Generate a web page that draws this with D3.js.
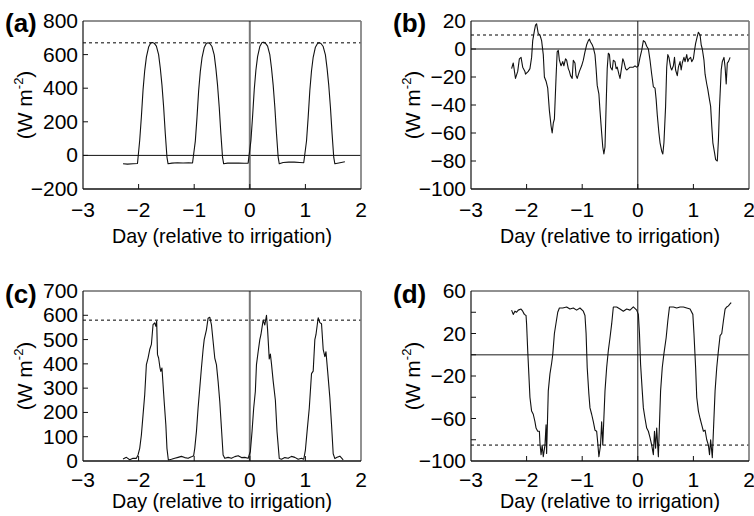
<!DOCTYPE html>
<html>
<head>
<meta charset="utf-8">
<script src="https://cdn.jsdelivr.net/npm/d3@7"></script>
<style>
  body { margin: 0; background: #fff; }
  svg { font-family: "Liberation Sans", Arial, sans-serif; }
</style>
</head>
<body>
<div id="chart"></div>
<script>
// x axis (days relative to irrigation)
var dayTicks = [-3, -2, -1, 0, 1, 2];

// (a) net radiation
var yTicksA = [800, 600, 400, 200, 0, -200];
var refLineA = 670;
var seriesA = [
  [-2.28,-50],[-2.2,-52],[-2.1,-50],[-2.02,-48],
  [-1.98,90],[-1.95,230],[-1.92,390],[-1.89,505],[-1.86,585],[-1.82,645],[-1.78,670],[-1.75,672],
  [-1.72,668],[-1.68,650],[-1.64,600],[-1.61,520],[-1.58,420],[-1.55,290],[-1.52,130],[-1.49,-10],[-1.47,-50],
  [-1.4,-46],[-1.3,-44],[-1.2,-45],[-1.1,-44],[-1.03,-45],
  [-0.98,85],[-0.95,225],[-0.92,385],[-0.89,500],[-0.86,580],[-0.82,642],[-0.78,668],[-0.75,670],
  [-0.72,666],[-0.68,648],[-0.64,598],[-0.61,518],[-0.58,418],[-0.55,288],[-0.52,128],[-0.49,-12],[-0.47,-50],
  [-0.4,-46],[-0.3,-45],[-0.2,-46],[-0.1,-47],[-0.03,-46],
  [0.02,88],[0.05,232],[0.08,392],[0.11,508],[0.14,588],[0.18,648],[0.22,672],[0.25,674],
  [0.28,668],[0.32,650],[0.36,600],[0.39,520],[0.42,420],[0.45,290],[0.48,130],[0.51,-10],[0.53,-50],
  [0.6,-42],[0.7,-40],[0.8,-40],[0.9,-42],[0.97,-44],
  [1.02,86],[1.05,228],[1.08,388],[1.11,504],[1.14,584],[1.18,644],[1.22,668],[1.25,670],
  [1.28,666],[1.32,648],[1.36,598],[1.39,518],[1.42,418],[1.45,288],[1.48,128],[1.51,-12],[1.53,-50],
  [1.6,-45],[1.71,-38]
];

// (b)
var yTicksB = [20, 0, -20, -40, -60, -80, -100];
var refLineB = 10;
var seriesB = [
  [-2.27,-14],[-2.24,-10],[-2.20,-21],[-2.16,-16],[-2.13,-7],[-2.10,-6],[-2.07,-13],[-2.03,-16],[-2.02,-18],
  [-1.97,-16],[-1.94,-14],[-1.91,-6],[-1.89,6],[-1.86,13],[-1.84,17],[-1.82,18],[-1.79,11],[-1.76,10],[-1.73,6],
  [-1.70,-4],[-1.68,-20],[-1.65,-23],[-1.62,-28],[-1.59,-44],[-1.56,-55],[-1.54,-60],[-1.52,-53],[-1.50,-50],
  [-1.47,-20],[-1.45,-2],[-1.43,-1],[-1.41,-8],[-1.38,-12],[-1.35,-9],[-1.33,-12],[-1.30,-7],[-1.28,-8],
  [-1.25,-14],[-1.23,-16],[-1.21,-19],[-1.18,-21],[-1.16,-8],[-1.13,-10],[-1.11,-19],[-1.09,-21],[-1.05,-16],
  [-1.01,-12],[-0.98,-8],[-0.95,-2],[-0.92,3],[-0.89,6],[-0.87,7],[-0.85,5],[-0.82,3],[-0.80,1],[-0.77,-4],
  [-0.75,-14],[-0.73,-26],[-0.70,-32],[-0.68,-44],[-0.65,-60],[-0.63,-70],[-0.61,-75],[-0.59,-70],[-0.57,-41],
  [-0.55,-14],[-0.53,-3],[-0.51,-4],[-0.49,-13],[-0.46,-15],[-0.44,-8],[-0.41,-9],[-0.39,-14],[-0.37,-13],
  [-0.34,-18],[-0.32,-21],[-0.29,-13],[-0.27,-7],[-0.25,-9],[-0.22,-14],[-0.20,-15],[-0.17,-14],[-0.14,-13],
  [-0.11,-13],[-0.08,-13],[-0.05,-12],[-0.02,-13],[0.01,-12],[0.04,-6],[0.07,-1],[0.10,6],[0.13,5],[0.16,2],
  [0.19,0],[0.22,-8],[0.25,-18],[0.28,-27],[0.31,-28],[0.33,-36],[0.35,-47],[0.38,-60],[0.40,-67],[0.43,-73],
  [0.45,-75],[0.47,-67],[0.50,-41],[0.52,-13],[0.54,-4],[0.56,-6],[0.59,-13],[0.61,-15],[0.64,-12],[0.66,-6],
  [0.68,-15],[0.71,-19],[0.73,-13],[0.76,-9],[0.78,-15],[0.80,-10],[0.83,-6],[0.85,-9],[0.88,-4],[0.90,-9],
  [0.92,-7],[0.95,-6],[0.97,-9],[1.00,-7],[1.02,-1],[1.04,4],[1.07,9],[1.09,12],[1.12,10],[1.14,3],[1.16,0],
  [1.19,-8],[1.21,-18],[1.24,-25],[1.26,-29],[1.28,-34],[1.31,-41],[1.33,-55],[1.35,-67],[1.38,-74],[1.40,-79],
  [1.43,-80],[1.45,-65],[1.47,-41],[1.50,-15],[1.52,-9],[1.55,-6],[1.57,-13],[1.59,-25],[1.61,-10],[1.63,-9],
  [1.66,-6]
];

// (c)
var yTicksC = [700, 600, 500, 400, 300, 200, 100, 0];
var refLineC = 580;
var seriesC = [
  [-2.28,8],[-2.22,15],[-2.16,5],[-2.10,11],[-2.04,11],[-2.01,25],[-1.98,52],[-1.95,107],[-1.92,190],[-1.89,273],
  [-1.86,397],[-1.83,424],[-1.80,459],[-1.77,480],[-1.74,562],[-1.71,569],[-1.69,555],[-1.675,576],[-1.66,438],
  [-1.64,424],[-1.615,383],[-1.60,369],[-1.58,383],[-1.56,314],[-1.54,245],[-1.51,149],[-1.49,52],[-1.465,4],
  [-1.41,7],[-1.35,11],[-1.29,15],[-1.23,19],[-1.17,14],[-1.11,11],[-1.05,17],[-1.01,22],
  [-0.99,52],[-0.96,121],[-0.93,218],[-0.90,300],[-0.87,383],[-0.84,459],[-0.82,500],[-0.78,540],[-0.75,588],
  [-0.72,592],[-0.69,562],[-0.66,493],[-0.63,424],[-0.60,397],[-0.57,328],[-0.54,245],[-0.51,135],[-0.48,25],[-0.45,11],
  [-0.39,15],[-0.33,11],[-0.27,18],[-0.21,22],[-0.15,14],[-0.09,15],[-0.03,11],
  [0.01,39],[0.04,121],[0.07,218],[0.10,287],[0.12,397],[0.15,450],[0.18,500],[0.20,520],[0.24,580],[0.27,560],
  [0.30,600],[0.32,540],[0.35,420],[0.37,440],[0.39,400],[0.42,330],[0.46,250],[0.49,120],[0.53,10],
  [0.57,7],[0.63,14],[0.69,11],[0.75,19],[0.81,15],[0.87,7],[0.93,11],[0.97,7],
  [1.00,45],[1.03,121],[1.07,218],[1.11,360],[1.14,370],[1.17,500],[1.19,520],[1.23,590],[1.26,570],[1.29,565],
  [1.32,460],[1.35,430],[1.37,450],[1.40,370],[1.44,260],[1.47,150],[1.50,30],[1.53,10],[1.57,15],[1.62,20],[1.68,5]
];

// (d)
var yTicksD = [60, 40, 20, 0, -20, -40, -60, -80, -100];
var yLabelsD = [60, 20, -20, -60, -100];
var refLineD = -85;
var seriesD = [
  [-2.27,42],[-2.24,38],[-2.21,41],[-2.18,40],[-2.15,42],[-2.10,43],[-2.07,41],[-2.04,38],[-2.01,37],[-2.00,29],
  [-1.98,4],[-1.96,-18],[-1.94,-40],[-1.91,-53],[-1.88,-56],[-1.85,-63],[-1.83,-69],[-1.80,-72],[-1.77,-72],
  [-1.76,-83],[-1.74,-94],[-1.72,-85],[-1.70,-96],[-1.67,-85],[-1.65,-66],[-1.64,-93],[-1.61,-34],[-1.58,-18],
  [-1.55,-8],[-1.53,0],[-1.50,20],[-1.44,40],[-1.41,44],[-1.35,44],[-1.28,45],[-1.22,43],[-1.16,44],[-1.10,42],
  [-1.04,44],[-0.98,41],
  [-0.95,37],[-0.93,20],[-0.91,-12],[-0.88,-37],[-0.86,-50],[-0.83,-56],[-0.80,-63],[-0.77,-71],[-0.74,-72],
  [-0.72,-83],[-0.70,-96],[-0.67,-85],[-0.65,-63],[-0.63,-85],[-0.59,-34],[-0.56,-12],[-0.53,4],[-0.50,16],
  [-0.47,29],[-0.44,45],[-0.38,45],[-0.32,43],[-0.26,41],[-0.20,43],[-0.14,42],[-0.08,45],[-0.02,42],
  [0.01,38],[0.03,20],[0.05,-9],[0.08,-34],[0.10,-50],[0.13,-60],[0.16,-69],[0.19,-72],[0.22,-78],[0.25,-85],
  [0.28,-94],[0.30,-72],[0.32,-88],[0.34,-69],[0.37,-96],[0.41,-34],[0.44,-12],[0.47,1],[0.51,16],[0.54,32],
  [0.57,45],[0.64,45],[0.70,44],[0.76,45],[0.82,45],[0.88,44],[0.94,43],[0.99,38],
  [1.01,20],[1.04,-12],[1.06,-40],[1.09,-53],[1.12,-60],[1.15,-66],[1.18,-72],[1.21,-71],[1.24,-80],[1.27,-85],
  [1.29,-94],[1.31,-80],[1.34,-97],[1.39,-34],[1.42,-12],[1.45,4],[1.48,18],[1.51,20],[1.54,32],[1.57,43],
  [1.60,45],[1.63,46],[1.66,48],[1.68,49]
];

var width = 754, height = 516;
var svg = d3.select("#chart").append("svg")
  .attr("width", width)
  .attr("height", height);

function drawPanel(p) {
  var x = d3.scaleLinear().domain([-3, 2]).range([p.left, p.right]);
  var y = d3.scaleLinear().domain(p.yDomain).range([p.bottom, p.top]);
  var g = svg.append("g");

  // zero lines
  if (p.hZero) {
    g.append("line")
      .attr("x1", p.left).attr("x2", p.right)
      .attr("y1", y(0)).attr("y2", y(0))
      .attr("stroke", p.hZero.color).attr("stroke-width", p.hZero.w);
  }
  g.append("line")
    .attr("x1", x(0)).attr("x2", x(0))
    .attr("y1", p.top).attr("y2", p.bottom)
    .attr("stroke", p.vZero.color).attr("stroke-width", p.vZero.w);

  // dashed reference line
  g.append("line")
    .attr("x1", p.left).attr("x2", p.right)
    .attr("y1", y(p.ref)).attr("y2", y(p.ref))
    .attr("stroke", "#000").attr("stroke-width", 1)
    .attr("stroke-dasharray", "3,3");

  // data line
  g.append("path")
    .datum(p.data)
    .attr("fill", "none")
    .attr("stroke", "#111")
    .attr("stroke-width", 1.1)
    .attr("stroke-linejoin", "round")
    .attr("d", d3.line().x(function (d) { return x(d[0]); }).y(function (d) { return y(d[1]); }));

  // frame
  g.append("line").attr("x1", p.left).attr("x2", p.right).attr("y1", p.top).attr("y2", p.top)
    .attr("stroke", "#222").attr("stroke-width", 1);
  g.append("line").attr("x1", p.right).attr("x2", p.right).attr("y1", p.top).attr("y2", p.bottom)
    .attr("stroke", "#777").attr("stroke-width", 1.6);
  g.append("line").attr("x1", p.left).attr("x2", p.left).attr("y1", p.top).attr("y2", p.bottom)
    .attr("stroke", "#111").attr("stroke-width", 1.2);
  g.append("line").attr("x1", p.left).attr("x2", p.right).attr("y1", p.bottom).attr("y2", p.bottom)
    .attr("stroke", "#111").attr("stroke-width", 1.6);

  // x ticks (inward) and labels
  dayTicks.forEach(function (t) {
    if (t > -3 && t < 2) {
      g.append("line").attr("x1", x(t)).attr("x2", x(t))
        .attr("y1", p.bottom).attr("y2", p.bottom - 5)
        .attr("stroke", "#111").attr("stroke-width", 1);
    }
    g.append("text")
      .attr("x", x(t)).attr("y", p.bottom + p.tickGap)
      .attr("text-anchor", "middle")
      .attr("font-size", 21)
      .text(d3.format("d")(t));
  });

  // y ticks (inward) and labels
  p.yTicks.forEach(function (t) {
    if (t !== p.yDomain[0] && t !== p.yDomain[1]) {
      g.append("line").attr("x1", p.left).attr("x2", p.left + 5)
        .attr("y1", y(t)).attr("y2", y(t))
        .attr("stroke", "#111").attr("stroke-width", 1);
    }
  });
  p.yLabels.forEach(function (t) {
    g.append("text")
      .attr("x", p.left - 5).attr("y", y(t) + 7)
      .attr("text-anchor", "end")
      .attr("font-size", 21)
      .text(d3.format("d")(t));
  });

  // axis titles
  g.append("text")
    .attr("x", (p.left + p.right) / 2).attr("y", p.bottom + p.titleGap)
    .attr("text-anchor", "middle")
    .attr("font-size", 21)
    .attr("textLength", 220)
    .attr("lengthAdjust", "spacingAndGlyphs")
    .text("Day (relative to irrigation)");

  var yl = g.append("text")
    .attr("transform", "translate(" + (p.left - 51) + "," + ((p.top + p.bottom) / 2) + ") rotate(-90)")
    .attr("text-anchor", "middle")
    .attr("font-size", 21);
  yl.append("tspan").text("(W m");
  yl.append("tspan").attr("font-size", 13).attr("dy", -9).text("-2");
  yl.append("tspan").attr("dy", 9).text(")");

  // panel letter
  g.append("text")
    .attr("x", p.left - 78).attr("y", p.top + p.letterGap)
    .attr("font-size", 26)
    .attr("font-weight", "bold")
    .text(p.letter);
}

drawPanel({
  letter: "(a)", left: 83, right: 361, top: 21, bottom: 189, tickGap: 28, titleGap: 54, letterGap: 11,
  yDomain: [-200, 800], yTicks: yTicksA, yLabels: yTicksA, ref: refLineA, data: seriesA,
  hZero: {color: "#111", w: 1}, vZero: {color: "#777", w: 2}
});
drawPanel({
  letter: "(b)", left: 471, right: 749, top: 21, bottom: 189, tickGap: 28, titleGap: 54, letterGap: 11,
  yDomain: [-100, 20], yTicks: yTicksB, yLabels: yTicksB, ref: refLineB, data: seriesB,
  hZero: {color: "#111", w: 1}, vZero: {color: "#111", w: 1}
});
drawPanel({
  letter: "(c)", left: 83, right: 361, top: 291, bottom: 461, tickGap: 26, titleGap: 47, letterGap: 12,
  yDomain: [0, 700], yTicks: yTicksC, yLabels: yTicksC, ref: refLineC, data: seriesC,
  hZero: null, vZero: {color: "#777", w: 2}
});
drawPanel({
  letter: "(d)", left: 471, right: 749, top: 291, bottom: 461, tickGap: 26, titleGap: 47, letterGap: 12,
  yDomain: [-100, 60], yTicks: yTicksD, yLabels: yLabelsD, ref: refLineD, data: seriesD,
  hZero: {color: "#666", w: 1.6}, vZero: {color: "#111", w: 1}
});
</script>
</body>
</html>
